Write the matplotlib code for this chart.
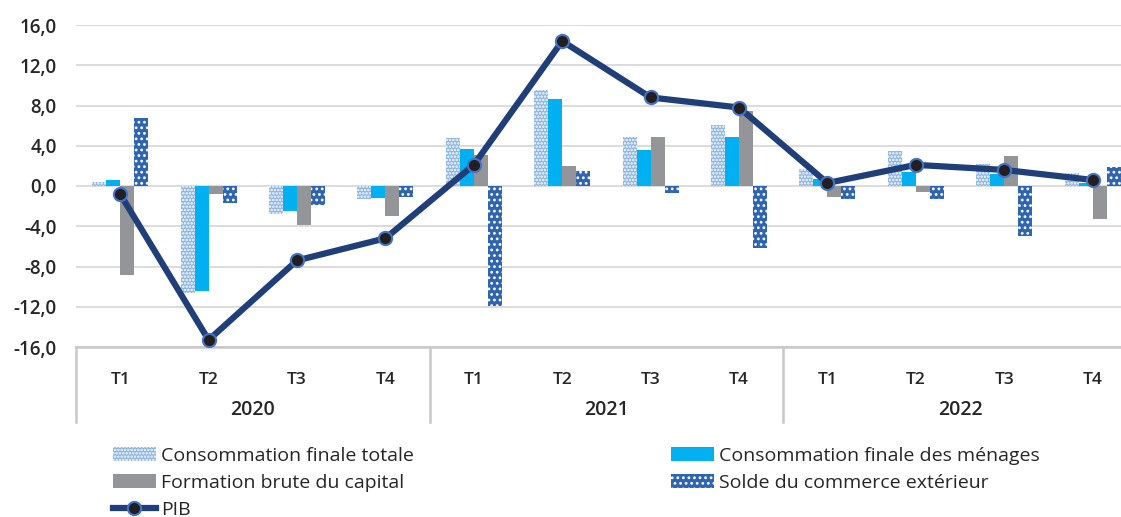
import matplotlib.pyplot as plt
from matplotlib.transforms import blended_transform_factory
import numpy as np

# Quarterly contributions (%), 2020-2022
quarters = ['T1', 'T2', 'T3', 'T4'] * 3
years = ['2020', '2021', '2022']
cft = [0.4, -10.6, -2.8, -1.3, 4.8, 9.5, 4.9, 6.1, 1.7, 3.5, 2.2, 1.3]
cfm = [0.6, -10.4, -2.5, -1.2, 3.7, 8.6, 3.6, 4.9, 0.7, 1.4, 1.2, 0.3]
fbc = [-8.8, -0.8, -3.9, -3.0, 3.1, 2.0, 4.9, 7.5, -1.1, -0.6, 3.0, -3.3]
solde = [6.8, -1.7, -1.9, -1.1, -11.9, 1.5, -0.7, -6.2, -1.3, -1.3, -5.0, 1.9]
pib = [-0.8, -15.3, -7.4, -5.2, 2.1, 14.4, 8.8, 7.8, 0.3, 2.1, 1.6, 0.6]

plt.rcParams['font.family'] = ['Open Sans', 'DejaVu Sans']
plt.rcParams['hatch.linewidth'] = 1.2

fig = plt.figure(figsize=(11.21, 5.17), dpi=100)
ax = fig.add_axes([76 / 1121, 1 - 347 / 517, 1 - 76 / 1121, 322 / 517])

x = np.arange(len(quarters))
w = 0.158
b1 = ax.bar(x - 1.5 * w, cft, w, color='#8DB4E2', edgecolor='white', hatch='.....', linewidth=0, zorder=2,
            label='Consommation finale totale')
b2 = ax.bar(x - 0.5 * w, cfm, w, color='#00B0F0', linewidth=0, zorder=2,
            label='Consommation finale des ménages')
b3 = ax.bar(x + 0.5 * w, fbc, w, color='#939598', linewidth=0, zorder=2,
            label='Formation brute du capital')
b4 = ax.bar(x + 1.5 * w, solde, w, color='#2E64B0', edgecolor='white', hatch='...', linewidth=0, zorder=2,
            label='Solde du commerce extérieur')
ln, = ax.plot(x, pib, color='#203F78', lw=4.5, marker='o', markersize=9.5,
              markerfacecolor='#231F20', markeredgecolor='#4472C4', markeredgewidth=1.5,
              zorder=4, label='PIB')

ax.set_ylim(-16, 16)
ax.set_xlim(-0.5, -0.5 + (1121 - 76) / 88.4)
ax.set_yticks(np.arange(-16, 17, 4))
ax.set_yticklabels([f'{v:.1f}'.replace('.', ',') for v in np.arange(-16, 17, 4)])
ax.grid(axis='y', color='#D9D9D9', lw=1.3, zorder=0)
ax.set_axisbelow(True)
for s in ['top', 'right', 'left']:
    ax.spines[s].set_visible(False)
ax.spines['bottom'].set_color('#C8C8C8')
ax.spines['bottom'].set_linewidth(1.8)
ax.spines['bottom'].set_position(('data', -16))
ax.tick_params(axis='y', length=0, pad=14, labelsize=13.5, labelcolor='#262626')
for lab in ax.get_yticklabels():
    lab.set_fontweight('semibold')

ax.set_xticks(x)
ax.set_xticklabels(quarters)
ax.tick_params(axis='x', length=0, pad=18, labelsize=12.5, labelcolor='#262626')
for lab in ax.get_xticklabels():
    lab.set_fontweight('semibold')

# year level of the category axis
trans = blended_transform_factory(ax.transData, ax.transAxes)
for i, yr in enumerate(years):
    ax.text(i * 4 + 1.5, -63 / 322, yr, transform=trans, ha='center', va='center',
            fontsize=14, fontweight='semibold', color='#262626')
for xs in [-0.5, 3.5, 7.5, 11.5]:
    ax.plot([xs, xs], [0, -75 / 322], transform=trans, color='#C8C8C8', lw=1.8, clip_on=False)

handles = [b1, b3, ln, b2, b4]
leg = fig.legend(handles, [h.get_label() for h in handles], ncol=2, loc='upper left',
                 bbox_to_anchor=(103 / 1121, 1 - 437 / 517), frameon=False,
                 prop={'size': 14, 'weight': 'medium'}, handlelength=2.2, handletextpad=0.3,
                 labelspacing=0.46, columnspacing=13.2, borderpad=0)
for t in leg.get_texts():
    t.set_color('#262626')

fig.savefig('out.png', dpi=100)
